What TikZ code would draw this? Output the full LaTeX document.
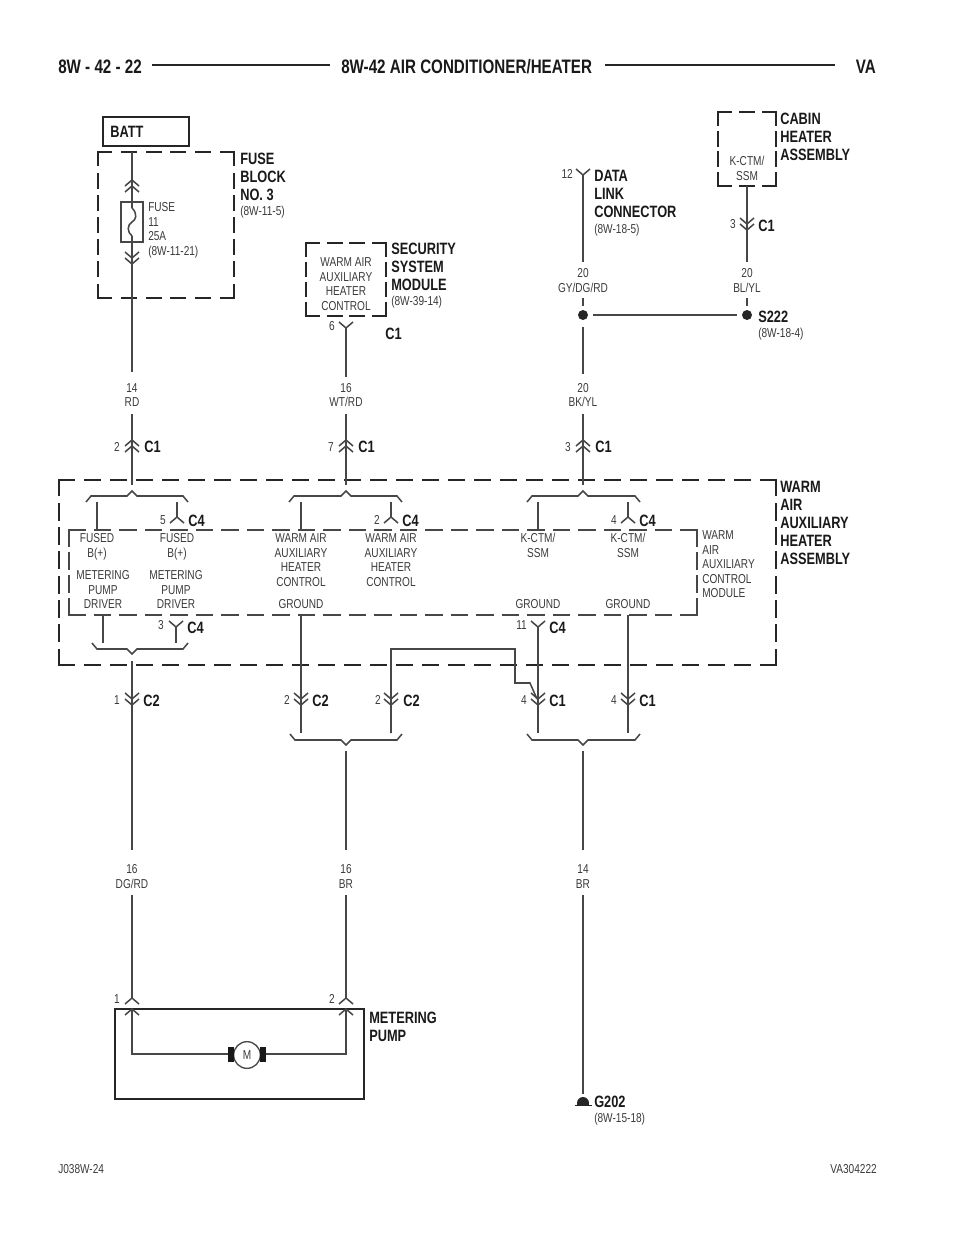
\documentclass[tikz,border=0pt]{standalone}
\usepackage{fontspec}
\setmainfont{Liberation Sans}[FakeStretch=0.78]
\definecolor{ink}{HTML}{3A3A3A}
\definecolor{wirec}{HTML}{474747}
\newcounter{lb}
\newcommand\smL[3]{\stepcounter{lb}\node[smalltext,anchor=north west,align=left] (lb\arabic{lb}) at (#1,{#2-6.17}) {\rule{0pt}{8pt}#3};}
\newcommand\smC[3]{\stepcounter{lb}\node[smalltext,anchor=north,align=center] (lb\arabic{lb}) at (#1,{#2-6.17}) {\rule{0pt}{8pt}#3};}
\newcommand\smR[3]{\stepcounter{lb}\node[smalltext,anchor=north east,align=right] (lb\arabic{lb}) at (#1,{#2-6.17}) {\rule{0pt}{8pt}#3};}
\newcommand\bdL[3]{\stepcounter{lb}\node[boldtext,anchor=north west,align=left] (lb\arabic{lb}) at (#1,{#2-7.6}) {\rule{0pt}{10pt}#3};}
\newcommand\cV[2]{\draw[wire] ({#1-7},{#2-6})--(#1,#2)--({#1+7},{#2-6});}
\newcommand\cA[2]{\draw[wire] ({#1-7},{#2+6})--(#1,#2)--({#1+7},{#2+6});}
\newcommand\pnt[3]{\coordinate (#1) at (#2,#3);}
% brace opening: #1 apex x, #2 apex y, #3 left, #4 right, #5 direction (+1 apex up, -1 apex down)
\newcommand\brc[5]{\draw[wire] (#3,{#2+#5*11})--({#3+5},{#2+#5*5})--({#1-5},{#2+#5*5})--(#1,#2)--({#1+5},{#2+#5*5})--({#4-5},{#2+#5*5})--(#4,{#2+#5*11});}
\newcommand\dside[7]{%
 \pgfmathsetmacro\dL{veclen(#3-#1,#4-#2)}%
 \pgfmathsetmacro\dN{max(1,round((\dL-#6)/(#6+#7)))}%
 \pgfmathsetmacro\dGp{(\dL-#6*(\dN+1))/\dN*0.75}%
 \pgfmathsetmacro\dDp{#6*0.75}%
 \draw[#5,dash pattern=on \dDp pt off \dGp pt] (#1,#2)--(#3,#4);}
\newcommand\dbox[7]{\dside{#1}{#2}{#3}{#2}{#5}{#6}{#7}\dside{#3}{#2}{#3}{#4}{#5}{#6}{#7}\dside{#1}{#4}{#3}{#4}{#5}{#6}{#7}\dside{#1}{#2}{#1}{#4}{#5}{#6}{#7}}
\begin{document}
\begin{tikzpicture}[x=0.75pt,y=-0.75pt,
  smalltext/.style={font=\fontsize{9.7}{10.9}\selectfont,text=ink,inner sep=0pt},
  boldtext/.style={font=\fontsize{12.3}{13.5}\selectfont\bfseries,text=black!90,inner sep=0pt},
  titletext/.style={font=\fontsize{14.6}{17}\selectfont\bfseries,text=black!90,inner sep=0pt},
  wire/.style={draw=wirec,line width=1.15pt},
  hbar/.style={draw=black!85,line width=2.2pt},
  thickdash/.style={draw=black!85,line width=2.1pt,line cap=rect},
  thindash/.style={draw=wirec,line width=1.05pt,line cap=rect},
  solidbox/.style={draw=black!85,line width=2.1pt},
  dot/.style={circle,fill=black!85,draw=none,minimum size=7.5pt,inner sep=0pt}]
\useasboundingbox (0,0) rectangle (960,1242);
% header
\node[titletext,anchor=base west] (hd1) at (58,73) {8W - 42 - 22};
\node[titletext,anchor=base west] (hd2) at (341,73) {8W-42 AIR CONDITIONER/HEATER};
\node[titletext,anchor=base east] (hd3) at (876,73) {VA};
\pnt{h1}{152}{65}\pnt{h2}{330}{65}\pnt{h3}{605}{65}\pnt{h4}{835}{65}
\draw[hbar] (h1)--(h2); \draw[hbar] (h3)--(h4);
\smL{58}{1169}{J038W-24}
\smR{877}{1169}{VA304222}
% BATT
\draw[solidbox] (103,117) rectangle (189,146);
\bdL{110}{131}{BATT}
% fuse block
\dbox{98}{152}{234}{298}{thickdash}{13}{10}
\bdL{240}{158}{FUSE\\BLOCK\\NO. 3}
\smL{240}{211}{(8W-11-5)}
\pnt{f1}{132}{152}\pnt{f2}{132}{208}\pnt{f3}{132}{236}\pnt{f4}{132}{372}
\draw[wire] (f1)--(f2);
\draw[wire] (f2) .. controls (138,214) and (136,220) .. (132,222) .. controls (127,225) and (127,232) .. (f3);
\draw[wire] (f3)--(f4);
\draw[draw=wirec,line width=0.9pt] (121,202) rectangle (143,242);
\cA{132}{180}\cA{132}{186}\cV{132}{258}\cV{132}{264}
\smL{148}{207}{FUSE\\11\\25A\\(8W-11-21)}
\smC{132}{387.5}{14\\RD}
% security
\dbox{306}{243}{386}{316}{thickdash}{13}{9}
\smC{346}{262}{WARM AIR\\AUXILIARY\\HEATER\\CONTROL}
\bdL{391}{248}{SECURITY\\SYSTEM\\MODULE}
\smL{391}{301}{(8W-39-14)}
\pnt{s1}{346}{328}\pnt{s2}{346}{377}
\draw[wire] (s1)--(s2); \cV{346}{328}
\smC{332}{326}{6}
\bdL{385}{333}{C1}
\smC{346}{387.5}{16\\WT/RD}
% data link
\pnt{d1}{583}{175}\pnt{d2}{583}{262}\pnt{d3}{583}{298}\pnt{d4}{583}{306}\pnt{d5}{583}{327}\pnt{d6}{583}{374}
\draw[wire] (d1)--(d2); \cV{583}{175}
\smR{573}{174}{12}
\bdL{594}{175}{DATA\\LINK\\CONNECTOR}
\smL{594}{229}{(8W-18-5)}
\smC{583}{273}{20\\GY/DG/RD}
\draw[wire] (d3)--(d4);
\node[dot] (dotL) at (583,315) {};
\draw[wire] (d5)--(d6);
\smC{583}{387.5}{20\\BK/YL}
% cabin
\dbox{718}{112}{776}{186}{thickdash}{13}{9}
\bdL{780}{118}{CABIN\\HEATER\\ASSEMBLY}
\smC{747}{161}{K-CTM/\\SSM}
\pnt{c1}{747}{186}\pnt{c2}{747}{262}\pnt{c3}{747}{298}\pnt{c4}{747}{306}
\draw[wire] (c1)--(c2); \cV{747}{224}\cV{747}{230}
\smC{733}{224}{3}
\bdL{758}{225}{C1}
\smC{747}{273}{20\\BL/YL}
\draw[wire] (c3)--(c4);
\node[dot] (dotR) at (747,315) {};
\draw[wire] (dotL)++(10,0) coordinate (sp1) (dotR)++(-10,0) coordinate (sp2);
\draw[wire] (sp1)--(sp2);
\bdL{758}{316}{S222}
\smL{758}{333}{(8W-18-4)}
% heater assembly
\dbox{59}{480}{776}{665}{thickdash}{15}{11}
\dbox{69}{530}{697}{615}{thindash}{16}{9}
\bdL{780}{486}{WARM\\AIR\\AUXILIARY\\HEATER\\ASSEMBLY}
\smL{702}{535}{WARM\\AIR\\AUXILIARY\\CONTROL\\MODULE}
% upper feeds
\foreach \xx/\nn in {132/2,346/7,583/3}{
  \coordinate (t1) at (\xx,414); \coordinate (t2) at (\xx,485);
  \draw[wire] (t1)--(t2);
  \cA{\xx}{440}\cA{\xx}{446}
  \smC{\xx-15}{447}{\nn}
  \bdL{\xx+12}{446}{C1}
}
\brc{132}{491}{86}{188}{1}
\brc{346}{491}{289}{402}{1}
\brc{583}{491}{527}{640}{1}
% upper drops
\foreach \xa/\xb/\nn in {97/177/5,301/391/2,538/628/4}{
  \coordinate (u1) at (\xa,502); \coordinate (u2) at (\xa,530);
  \coordinate (u3) at (\xb,502); \coordinate (u4) at (\xb,517);
  \draw[wire] (u1)--(u2);
  \draw[wire] (u3)--(u4);
  \cA{\xb}{517}
  \smC{\xb-14}{520}{\nn}
  \bdL{\xb+11}{520}{C4}
}
\smC{97}{538}{FUSED\\B(+)}
\smC{177}{538}{FUSED\\B(+)}
\smC{103}{575}{METERING\\PUMP\\DRIVER}
\smC{176}{575}{METERING\\PUMP\\DRIVER}
\smC{301}{538}{WARM AIR\\AUXILIARY\\HEATER\\CONTROL}
\smC{391}{538}{WARM AIR\\AUXILIARY\\HEATER\\CONTROL}
\smC{538}{538}{K-CTM/\\SSM}
\smC{628}{538}{K-CTM/\\SSM}
\smC{301}{604}{GROUND}
\smC{538}{604}{GROUND}
\smC{628}{604}{GROUND}
% lower left
\pnt{l1}{103}{615}\pnt{l2}{103}{643}\pnt{l3}{176}{627}\pnt{l4}{176}{643}
\draw[wire] (l1)--(l2); \draw[wire] (l3)--(l4); \cV{176}{627}
\smC{161}{625}{3}
\bdL{187}{627}{C4}
\brc{132}{654}{92}{188}{-1}
\pnt{m1}{132}{661}\pnt{m2}{132}{850}\pnt{m3}{132}{895}\pnt{m4}{132}{998}
\draw[wire] (m1)--(m2); \cV{132}{699}\cV{132}{705}
\smC{117}{700}{1}
\bdL{143}{700}{C2}
\smC{132}{869}{16\\DG/RD}
\draw[wire] (m3)--(m4);
% ground wires
\pnt{g1}{301}{615}\pnt{g2}{301}{733}
\draw[wire] (g1)--(g2); \cV{301}{699}\cV{301}{705}
\smC{287}{700}{2}
\bdL{312}{700}{C2}
\pnt{r1}{391}{733}\pnt{r2}{391}{649}\pnt{r3}{515}{649}\pnt{r4}{515}{683}\pnt{r5}{530}{683}\pnt{r6}{537}{699}
\draw[wire] (r1)--(r2)--(r3)--(r4)--(r5)--(r6);
\cV{391}{699}\cV{391}{705}
\smC{378}{700}{2}
\bdL{403}{700}{C2}
\pnt{q1}{538}{627}\pnt{q2}{538}{733}
\draw[wire] (q1)--(q2); \cV{538}{627}\cV{538}{699}\cV{538}{705}
\smR{527}{625}{11}
\bdL{549}{627}{C4}
\smC{524}{700}{4}
\bdL{549}{700}{C1}
\pnt{p1}{628}{615}\pnt{p2}{628}{733}
\draw[wire] (p1)--(p2); \cV{628}{699}\cV{628}{705}
\smC{614}{700}{4}
\bdL{639}{700}{C1}
\brc{346}{745}{290}{402}{-1}
\brc{583}{745}{527}{640}{-1}
\pnt{n1}{346}{751}\pnt{n2}{346}{850}\pnt{n3}{346}{895}\pnt{n4}{346}{998}
\draw[wire] (n1)--(n2);
\smC{346}{869}{16\\BR}
\draw[wire] (n3)--(n4);
\pnt{k1}{583}{751}\pnt{k2}{583}{850}\pnt{k3}{583}{895}\pnt{k4}{583}{1094}
\draw[wire] (k1)--(k2);
\smC{583}{869}{14\\BR}
\draw[wire] (k3)--(k4);
% ground symbol
\fill[black!85] (577,1103) arc[start angle=180,end angle=360,radius=6] -- cycle;
\fill[black!85] (577,1103) rectangle (589,1105);
\draw[draw=black!85,line width=1.3pt] (575,1105.5)--(592,1105.5);
\bdL{594}{1101}{G202}
\smL{594}{1118}{(8W-15-18)}
% metering pump
\cA{132}{998}\cA{346}{998}
\smC{117}{999}{1}
\smC{332}{999}{2}
\draw[solidbox] (115,1009) rectangle (364,1099);
\cA{132}{1009}\cA{346}{1009}
\bdL{369}{1017}{METERING\\PUMP}
\node[draw=wirec,line width=1pt,circle,minimum size=20pt,inner sep=0pt,smalltext] (motor) at (247,1055) {M};
\fill[black!90] (228,1047) rectangle (234,1062);
\fill[black!90] (260,1047) rectangle (266,1062);
\pnt{w1}{132}{1009}\pnt{w2}{132}{1054}\pnt{w3}{228}{1054}\pnt{w4}{266}{1054}\pnt{w5}{346}{1054}\pnt{w6}{346}{1009}
\draw[wire] (w1)--(w2)--(w3);
\draw[wire] (w4)--(w5)--(w6);
\end{tikzpicture}
\end{document}
